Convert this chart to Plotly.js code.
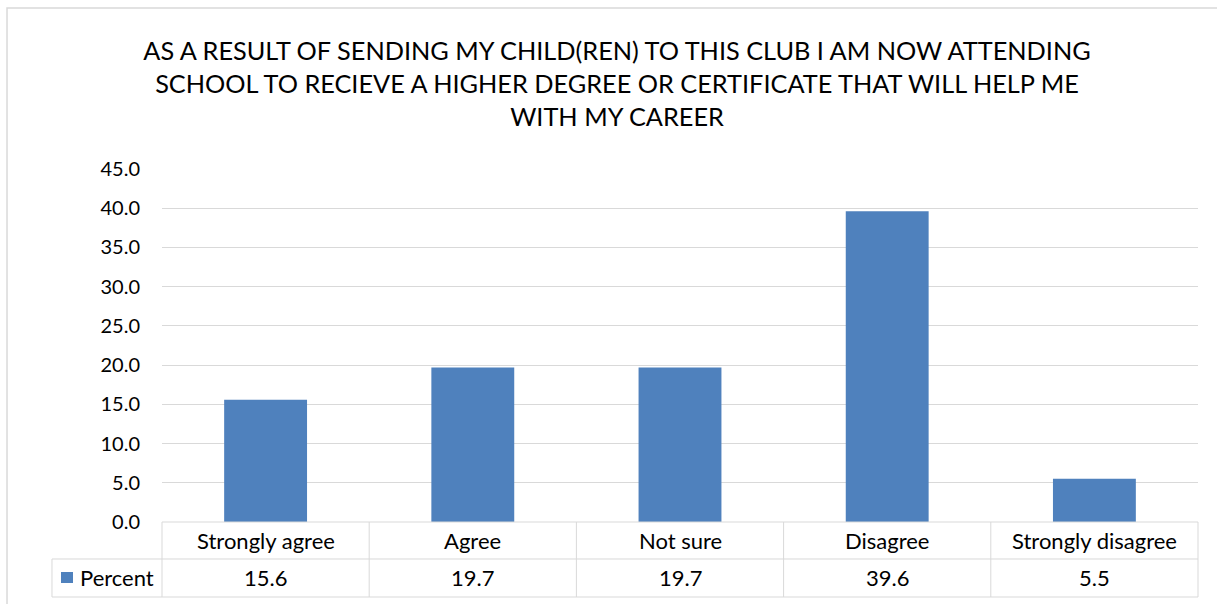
<!DOCTYPE html>
<html>
<head>
<meta charset="utf-8">
<script src="https://cdn.plot.ly/plotly-3.0.1.min.js"></script>
<style>html,body{margin:0;padding:0;background:#fff;}#chart{width:1217px;height:604px;}</style>
</head>
<body>
<div id="chart"></div>
<script>
const categories = ['Strongly agree', 'Agree', 'Not sure', 'Disagree', 'Strongly disagree'];
const percent = [15.6, 19.7, 19.7, 39.6, 5.5];
const seriesName = 'Percent';
const yTickValues = [0, 5, 10, 15, 20, 25, 30, 35, 40, 45];
const titleText = 'AS A RESULT OF SENDING MY CHILD(REN) TO THIS CLUB I AM NOW ATTENDING<br>SCHOOL TO RECIEVE A HIGHER DEGREE OR CERTIFICATE THAT WILL HELP ME<br>WITH MY CAREER';

const FONT = 'Lato, "Open Sans", "Liberation Sans", sans-serif';
const BAR = '#4F81BD';
const GRID = '#D9D9D9';
const TXT = '#000000';

// table geometry (paper units relative to plot area)
const rowHdrBottom = -0.1048;
const rowValBottom = -0.2125;
const leftCell = -0.1062;

const shapes = [];
const annotations = [];
const line = {color: GRID, width: 1};
shapes.push({type: 'line', xref: 'paper', yref: 'paper', x0: 0, x1: 1, y0: 0, y1: 0, line});
shapes.push({type: 'line', xref: 'paper', yref: 'paper', x0: leftCell, x1: 1, y0: rowHdrBottom, y1: rowHdrBottom, line});
shapes.push({type: 'line', xref: 'paper', yref: 'paper', x0: leftCell, x1: 1, y0: rowValBottom, y1: rowValBottom, line});
shapes.push({type: 'line', xref: 'paper', yref: 'paper', x0: leftCell, x1: leftCell, y0: rowHdrBottom, y1: rowValBottom, line});
for (let k = 0; k <= categories.length; k++) {
  const xv = k / categories.length;
  shapes.push({type: 'line', xref: 'paper', yref: 'paper', x0: xv, x1: xv, y0: 0, y1: rowValBottom, line});
}
// outer chart frame
shapes.push({type: 'rect', xref: 'paper', yref: 'paper', x0: -0.1496, x1: 1.03, y0: -0.26, y1: 1.456, line: {color: GRID, width: 1.5}, fillcolor: 'rgba(0,0,0,0)'});
// legend key
shapes.push({type: 'rect', xref: 'paper', yref: 'paper', x0: -0.0975, x1: -0.0859, y0: -0.1416, y1: -0.1728, line: {width: 0}, fillcolor: BAR});
annotations.push({xref: 'paper', yref: 'paper', x: -0.0812, y: -0.1572, xanchor: 'left', yanchor: 'middle', text: seriesName, showarrow: false, font: {family: FONT, size: 22, color: TXT}});

categories.forEach((c, i) => {
  annotations.push({xref: 'x', yref: 'paper', x: c, y: -0.0538, xanchor: 'center', yanchor: 'middle', text: c, showarrow: false, font: {family: FONT, size: 22, color: TXT}});
  annotations.push({xref: 'x', yref: 'paper', x: c, y: -0.1572, xanchor: 'center', yanchor: 'middle', text: percent[i].toFixed(1), showarrow: false, font: {family: FONT, size: 22, color: TXT}});
});

const data = [{
  type: 'bar',
  x: categories,
  y: percent,
  name: seriesName,
  marker: {color: BAR},
  width: 0.4,
  showlegend: false,
  hoverinfo: 'x+y'
}];

const layout = {
  width: 1217,
  height: 604,
  margin: {l: 162, r: 19, t: 169, b: 82, pad: 0},
  paper_bgcolor: '#fff',
  plot_bgcolor: '#fff',
  showlegend: false,
  title: {
    text: titleText,
    font: {family: FONT, size: 25.3, color: TXT},
    xref: 'container', yref: 'container',
    x: 0.507, y: 1 - 60 / 604,
    xanchor: 'center', yanchor: 'middle'
  },
  xaxis: {
    type: 'category',
    showticklabels: false,
    showgrid: false,
    zeroline: false,
    showline: false,
    ticks: '',
    fixedrange: true
  },
  yaxis: {
    range: [0, 45],
    tickvals: yTickValues,
    tickformat: '.1f',
    showgrid: true,
    gridcolor: GRID,
    gridwidth: 1,
    zeroline: false,
    showline: false,
    ticks: '',
    ticklabelstandoff: 21,
    tickfont: {family: FONT, size: 20, color: TXT},
    fixedrange: true
  },
  shapes: shapes,
  annotations: annotations
};

Plotly.newPlot('chart', data, layout, {displayModeBar: false, staticPlot: true});
</script>
</body>
</html>
